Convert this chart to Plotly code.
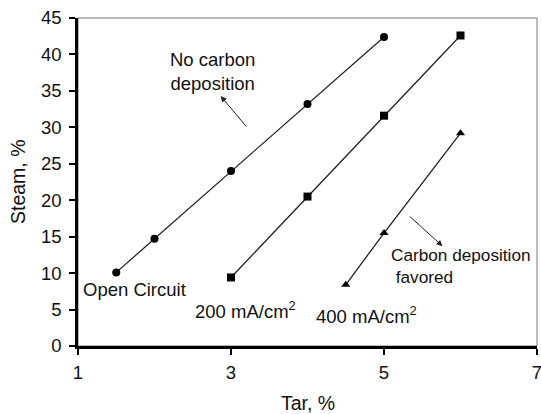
import plotly.graph_objects as go

tar_open = [1.5, 2, 3, 4, 5]
steam_open = [10.1, 14.7, 24.0, 33.2, 42.4]
tar_200 = [3, 4, 5, 6]
steam_200 = [9.4, 20.5, 31.6, 42.6]
tar_400 = [4.5, 5, 6]
steam_400 = [8.4, 15.5, 29.2]

x_ticks = [1, 3, 5, 7]
y_ticks = [0, 5, 10, 15, 20, 25, 30, 35, 40, 45]

FONT = "Liberation Sans, Arial, sans-serif"
line_style = dict(color="#222222", width=1.3)

fig = go.Figure()
fig.add_trace(go.Scatter(x=tar_open, y=steam_open, mode="lines+markers", cliponaxis=False,
                         line=line_style, marker=dict(symbol="circle", size=8, color="black")))
fig.add_trace(go.Scatter(x=tar_200, y=steam_200, mode="lines+markers", cliponaxis=False,
                         line=line_style, marker=dict(symbol="square", size=8, color="black")))
fig.add_trace(go.Scatter(x=tar_400, y=steam_400, mode="lines+markers", cliponaxis=False,
                         line=line_style, marker=dict(symbol="triangle-up", size=8, color="black")))

# thin frame (top/right)
fig.add_shape(type="rect", xref="paper", yref="paper", x0=0, y0=0, x1=1, y1=1,
              line=dict(color="#777777", width=1), layer="below")

txt = dict(size=18.5, color="#111111", family=FONT)
txt_s = dict(size=17.2, color="#111111", family=FONT)
ttl = dict(size=19.5, color="#111111", family=FONT)
ann = [
    dict(x=2.76, y=37.6, text="No carbon<br>deposition", showarrow=False, font=txt, align="center"),
    dict(x=1.74, y=7.7, text="Open Circuit", showarrow=False, font=txt),
    dict(x=2.5, y=4.9, text="200 mA/cm<sup>2</sup>", showarrow=False, font=txt, xanchor="left"),
    dict(x=4.09, y=4.2, text="400 mA/cm<sup>2</sup>", showarrow=False, font=txt, xanchor="left"),
    dict(x=5.07, y=11.0, text="Carbon deposition<br> favored", showarrow=False, font=txt_s,
         xanchor="left", align="left"),
    dict(x=2.865, y=34.3, ax=3.217, ay=29.9, axref="x", ayref="y", text="", showarrow=True,
         arrowhead=2, arrowsize=1.2, arrowwidth=1, arrowcolor="#222222", standoff=0),
    dict(x=5.765, y=13.7, ax=5.317, ay=17.97, axref="x", ayref="y", text="", showarrow=True,
         arrowhead=2, arrowsize=1.2, arrowwidth=1, arrowcolor="#222222", standoff=0),
]
for a in ann:
    a.setdefault("xref", "x")
    a.setdefault("yref", "y")
# axis titles placed in paper/pixel terms
ann.append(dict(xref="paper", yref="paper", x=0.5, y=0, yshift=-57, yanchor="middle",
                text="Tar, %", showarrow=False, font=ttl))
ann.append(dict(xref="paper", yref="paper", x=0, y=0.5, xshift=-60, xanchor="center",
                text="Steam, %", textangle=-90, showarrow=False, font=ttl))
fig.update_layout(annotations=ann)

fig.update_layout(
    width=541, height=414,
    margin=dict(l=78, r=4, t=18, b=68, autoexpand=False),
    plot_bgcolor="white", paper_bgcolor="white",
    showlegend=False,
    font=dict(family=FONT, size=18, color="#111111"),
    xaxis=dict(range=[1, 7], tickvals=x_ticks, ticktext=[str(v) for v in x_ticks],
               automargin=False, ticklabeloverflow="allow",
               showgrid=False, zeroline=False, showline=True, linecolor="black", linewidth=2.5,
               ticks="outside", ticklen=6, tickwidth=2, tickcolor="black",
               tickfont=dict(size=18.5), ticklabelstandoff=2),
    yaxis=dict(range=[0, 45], tickvals=y_ticks, ticktext=[str(v) for v in y_ticks],
               automargin=False, ticklabeloverflow="allow",
               showgrid=False, zeroline=False, showline=True, linecolor="black", linewidth=2.5,
               ticks="outside", ticklen=6, tickwidth=2, tickcolor="black",
               tickfont=dict(size=18.5), ticklabelstandoff=4),
)

# remove the page's default body margin so the figure sits flush in the window
fig.write_html("out.html", config={"displayModeBar": False},
               post_script="document.body.style.margin='0';document.body.style.overflow='hidden';")
